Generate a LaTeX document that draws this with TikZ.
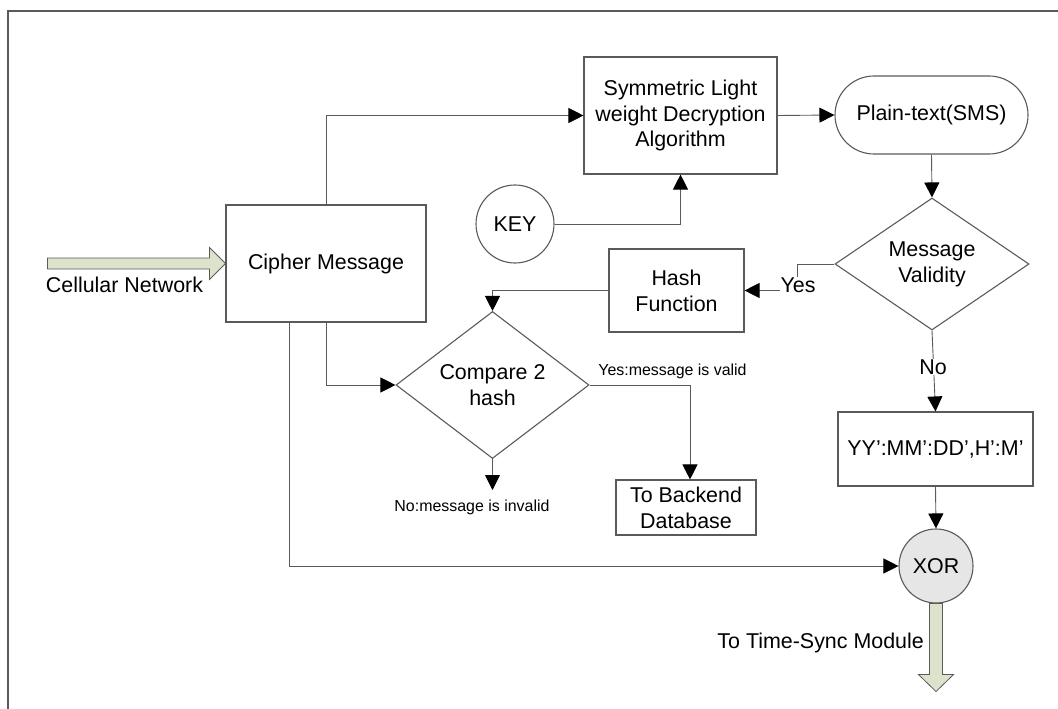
\documentclass[tikz,border=0pt]{standalone}
\usepackage{fontspec}
\setmainfont{Liberation Sans}
\usetikzlibrary{arrows.meta,shapes.geometric,shapes.misc}

\definecolor{linegray}{HTML}{5A5A5A}
\definecolor{arrowgreen}{HTML}{DDE2CB}
\definecolor{xorfill}{HTML}{E6E6E6}
\newcommand\bigtxt{\fontsize{21.5}{26}\selectfont}
\newcommand\smalltxt{\fontsize{16}{19}\selectfont}

\begin{document}
\begin{tikzpicture}[x=1bp,y=-1bp,
  line/.style={draw=linegray, line width=0.9bp},
  conn/.style={line, -{Triangle[length=15bp,width=15bp,color=black]}},
  shapebase/.style={line, line width=1.1bp, inner sep=0pt, align=center, font=\bigtxt, text=black},
  box/.style={shapebase, rectangle},
  pill/.style={shapebase, rounded rectangle},
  disc/.style={shapebase, circle},
  decision/.style={shapebase, diamond},
  lbl/.style={font=\bigtxt, inner sep=1bp, text=black},
  smalllbl/.style={font=\smalltxt, inner sep=1bp, text=black},
  blockarrow/.style={draw=linegray, line width=0.8bp, fill=arrowgreen, line join=miter}
]
\useasboundingbox (0,0) rectangle (1058,709);

% outer frame (top and left edges)
\draw[line, line width=1.1bp] (8,709) -- (8,11) -- (1058,11);

% blocks
\node[box, minimum width=200bp, minimum height=117bp] (cipher) at (326,263.5) {Cipher Message};
\node[box, minimum width=193bp, minimum height=117bp] (sym) at (680.5,115.5) {Symmetric Light\\weight Decryption\\Algorithm};
\node[pill, minimum width=193bp, minimum height=78bp] (plain) at (931.5,115) {Plain-text(SMS)};
\node[disc, minimum size=78bp] (key) at (515,224) {KEY};
\node[decision, minimum width=194bp, minimum height=116bp] (msg) at (932,264) {Message\\Validity};
\node[box, minimum width=135bp, minimum height=83bp] (hash) at (676.5,290.5) {Hash\\Function};
\node[decision, minimum width=193bp, minimum height=116bp] (cmp) at (492.5,385) {Compare 2\\hash};
\node[box, minimum width=140bp, minimum height=55bp] (backend) at (686,507.5) {To Backend\\Database};
\node[box, minimum width=195bp, minimum height=74bp] (yy) at (935.5,449) {YY’:MM’:DD’,H’:M’};
\node[disc, minimum size=74bp, fill=xorfill] (xor) at (936,566) {XOR};
\coordinate (invalid) at (492.5,490);

% incoming and outgoing block arrows
\draw[blockarrow] (cipher.west) -- ++(-16,-16) -- ++(0,10.5) -- ++(-162,0)
  -- ++(0,11) -- ++(162,0) -- ++(0,10.5) -- cycle;
\draw[blockarrow] (xor.south) ++(-6.5,0) -- ++(0,71) -- ++(-11,0) -- ++(17.5,17)
  -- ++(17.5,-17) -- ++(-11,0) -- ++(0,-71) -- cycle;
\node[lbl] (cell) at (124.5,285) {Cellular Network};
\node[lbl, anchor=east] (sync) at (925,643) {To Time-Sync Module};

% connectors
\draw[conn] (cipher.north) |- (sym.west);
\draw[conn] (sym.east) -- (plain.west);
\draw[conn] (key.east) -| (sym.south);
\draw[conn] (plain.south) -- (msg.north);
\draw[conn] (msg.west) -- ++(-37,0) |- (hash.east);
\node[lbl, fill=white] (yes) at (798,285) {Yes};
\draw[conn] (hash.west) -| (cmp.north);
\draw[conn] (cipher.south) |- (cmp.west);
\draw[conn] ([xshift=-37bp]cipher.south) |- (xor.west);
\draw[conn] (cmp.south) -- (invalid);
\node[smalllbl] (nolbl) at (472,507) {No:message is invalid};
\draw[conn] (cmp.east) -| ([xshift=4bp]backend.north);
\node[smalllbl] (yeslbl) at (672.5,371) {Yes:message is valid};
\draw[conn] (msg.south) -- (yy.north);
\node[lbl, fill=white] (no) at (933,367) {No};
\draw[conn] (yy.south) -- (xor.north);
\end{tikzpicture}
\end{document}
